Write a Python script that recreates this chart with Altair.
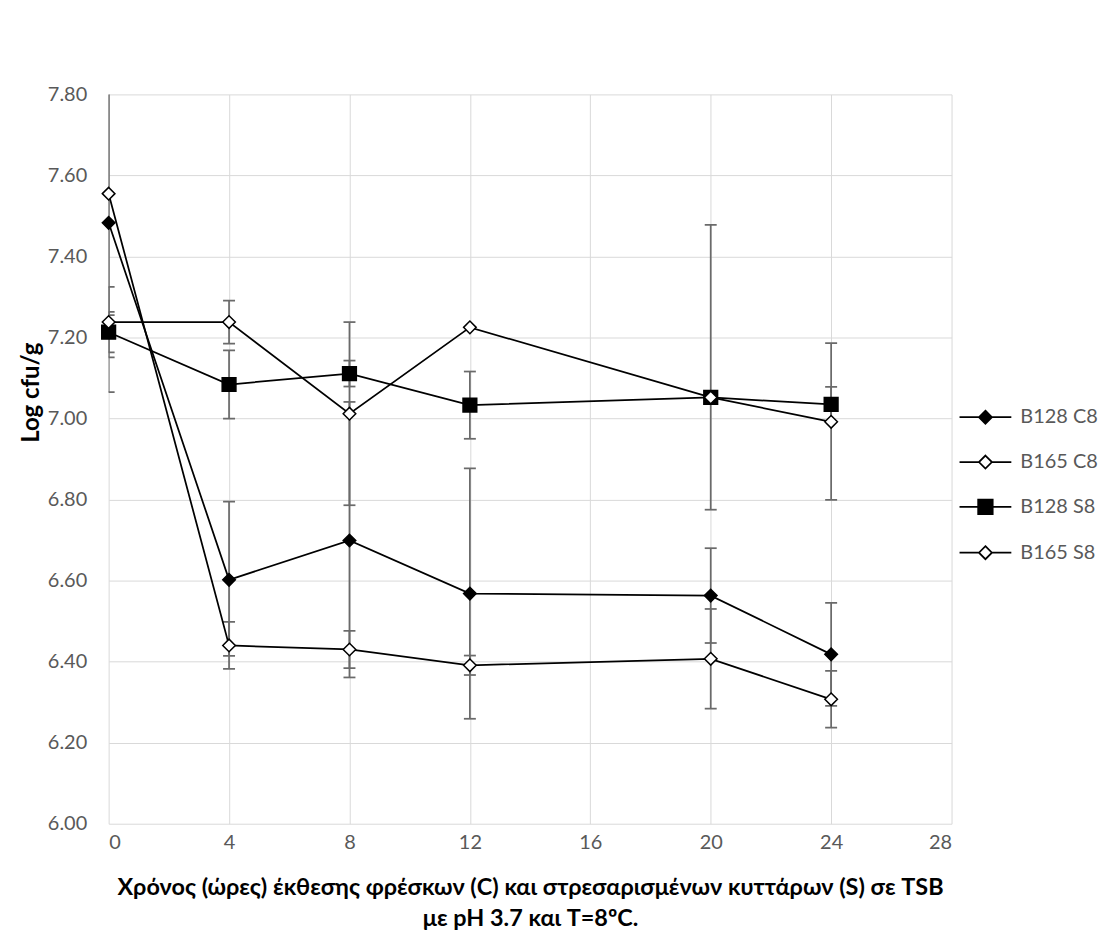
import altair as alt
import pandas as pd

# ---- data ----
times = [0, 4, 8, 12, 20, 24]
series_names = ["B128 C8", "B165 C8", "B128 S8", "B165 S8"]

b128_c8 = [7.483, 6.602, 6.699, 6.568, 6.563, 6.418]
b165_c8 = [7.555, 6.440, 6.430, 6.391, 6.407, 6.307]
b128_s8 = [7.213, 7.084, 7.111, 7.033, 7.052, 7.035]
b165_s8 = [7.238, 7.238, 7.012, 7.225, 7.052, 6.992]

b128_c8_up = [0.418, 0.193, 0.342, 0.309, 0.117, 0.127]
b128_c8_dn = [0.418, 0.188, 0.338, 0.309, 0.117, 0.127]
b165_c8_up = [0.300, 0.058, 0.046, 0.024, 0.123, 0.070]
b165_c8_dn = [0.300, 0.058, 0.046, 0.024, 0.123, 0.070]
b128_s8_up = [0.050, 0.084, 0.032, 0.083, 0.426, 0.043]
b128_s8_dn = [0.050, 0.084, 0.032, 0.083, 0.277, 0.043]
b165_s8_up = [0.087, 0.053, 0.226, 0.000, 0.000, 0.194]
b165_s8_dn = [0.087, 0.053, 0.226, 0.000, 0.000, 0.193]

x_ticks = [0, 4, 8, 12, 16, 20, 24, 28]
y_ticks = [6.0, 6.2, 6.4, 6.6, 6.8, 7.0, 7.2, 7.4, 7.6, 7.8]

x_title = ["Χρόνος (ώρες) έκθεσης φρέσκων (C) και στρεσαρισμένων κυττάρων (S) σε TSB",
           "με pH 3.7 και T=8ºC."]
y_title = "Log cfu/g"

# ---- build table ----
vals = [b128_c8, b165_c8, b128_s8, b165_s8]
ups = [b128_c8_up, b165_c8_up, b128_s8_up, b165_s8_up]
dns = [b128_c8_dn, b165_c8_dn, b128_s8_dn, b165_s8_dn]
rows = []
for name, v, u, d in zip(series_names, vals, ups, dns):
    for t, vv, uu, dd in zip(times, v, u, d):
        rows.append({"series": name, "time": t, "value": vv,
                     "hi": vv + uu, "lo": vv - dd})
df = pd.DataFrame(rows)

FONT = "Lato, Noto Sans, sans-serif"
GRAY = "#595959"
ERR = "#6a6a6a"

x_enc = alt.X("time:Q",
              scale=alt.Scale(domain=[0, 28], nice=False, zero=False),
              axis=alt.Axis(values=x_ticks, title=x_title, grid=True,
                            domain=False, ticks=False, tickSize=0,
                            labelPadding=9, titlePadding=23,
                            titleLineHeight=31, titleFontSize=23.5))
y_scale = alt.Scale(domain=[6.0, 7.8], nice=False, zero=False)
y_enc = alt.Y("value:Q", scale=y_scale,
              axis=alt.Axis(values=y_ticks, format=".2f", title=y_title,
                            grid=True, domain=False, ticks=False, tickSize=0,
                            labelPadding=22, titleX=-77, titleY=299,
                            titleAlign="center", titleBaseline="middle",
                            titleAngle=270, titleFontSize=24))

base = alt.Chart(df)

err_rules = base.mark_rule(color=ERR, strokeWidth=1.75, clip=True).encode(
    x=alt.X("time:Q"), y=alt.Y("lo:Q", scale=y_scale), y2="hi:Q",
    detail="series:N")
cap_hi = base.mark_point(shape="stroke", size=144, stroke=ERR,
                         strokeWidth=1.75, clip=True, opacity=1).encode(
    x="time:Q", y=alt.Y("hi:Q", scale=y_scale), detail="series:N")
cap_lo = base.mark_point(shape="stroke", size=144, stroke=ERR,
                         strokeWidth=1.75, clip=True, opacity=1).encode(
    x="time:Q", y=alt.Y("lo:Q", scale=y_scale), detail="series:N")

lines = base.mark_line(color="black", strokeWidth=1.75).encode(
    x=x_enc, y=y_enc, detail="series:N", order="time:Q")

def pts(name, shape, fill, size):
    return base.transform_filter(alt.datum.series == name).mark_point(
        shape=shape, fill=fill, stroke="black", strokeWidth=1.5,
        size=size, opacity=1, filled=True).encode(x="time:Q", y="value:Q")

p1 = pts("B128 C8", "diamond", "black", 160)
p2 = pts("B165 C8", "diamond", "white", 160)
p3 = pts("B128 S8", "square", "black", 190)
p4 = pts("B165 S8", "diamond", "white", 160)

leg_paths = [
    "M-1,0H-0.25M0.25,0H1M0,-0.25L0.25,0L0,0.25L-0.25,0Z",
    "M-1,0H-0.25M0.25,0H1M0,-0.25L0.25,0L0,0.25L-0.25,0Z",
    "M-1,0H-0.28M0.28,0H1M-0.28,-0.28H0.28V0.28H-0.28Z",
    "M-1,0H-0.25M0.25,0H1M0,-0.25L0.25,0L0,0.25L-0.25,0Z",
]
leg_fills = ["black", "white", "black", "white"]
leg_strokes = ["black", "black", "black", "black"]

legend = alt.Legend(title=None, orient="none", legendX=853, legendY=297,
                    symbolSize=2704, symbolStrokeWidth=1.75, symbolOpacity=1,
                    labelFont=FONT, labelFontSize=20, labelColor=GRAY,
                    labelOffset=8, rowPadding=8, padding=0)

leg_layer = base.mark_point(opacity=0, strokeWidth=1.75).encode(
    x="time:Q", y="value:Q",
    shape=alt.Shape("series:N", scale=alt.Scale(domain=series_names, range=leg_paths),
                    legend=legend),
    fill=alt.Fill("series:N", scale=alt.Scale(domain=series_names, range=leg_fills),
                  legend=legend),
    stroke=alt.Stroke("series:N", scale=alt.Scale(domain=series_names, range=leg_strokes),
                      legend=legend))

chart = alt.layer(err_rules, cap_hi, cap_lo, lines, p1, p2, p3, p4, leg_layer).properties(
    width=846, height=732,
    padding={"left": 12, "top": 75, "right": 5, "bottom": 5},
    background="white",
).configure_view(stroke=None).configure_axis(
    gridColor="#d9d9d9", gridWidth=1,
    labelFont=FONT, labelFontSize=20, labelColor=GRAY,
    titleFont=FONT, titleFontWeight="bold", titleColor="black",
)

chart.save("out.html", embed_options={"renderer": "svg", "actions": False})
